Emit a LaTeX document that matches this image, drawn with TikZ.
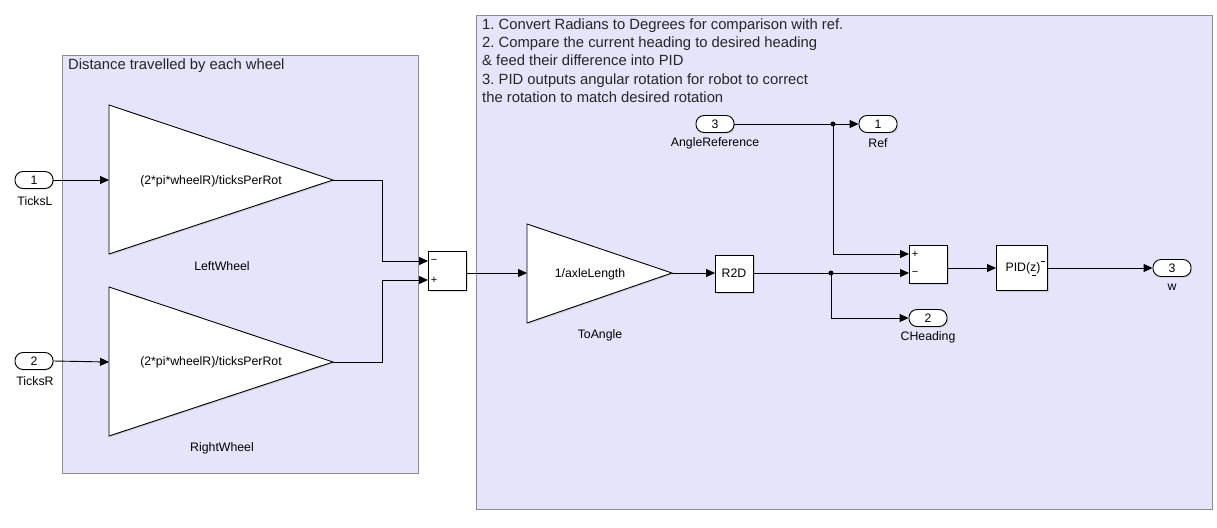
\documentclass[tikz,border=0pt]{standalone}
\usepackage{fontspec}
\setmainfont{Liberation Sans}
\usetikzlibrary{arrows.meta,shadows}
\definecolor{areafill}{RGB}{228,228,250}
\definecolor{areaedge}{RGB}{140,140,150}
\frenchspacing
\begin{document}
\begin{tikzpicture}[x=1pt,y=-1pt,
  areabox/.style={fill=areafill,draw=areaedge,line width=0.9pt,
     drop shadow={shadow xshift=1.2pt,shadow yshift=-1.2pt,opacity=0.35,fill=black!60}},
  blk/.style={draw=black,fill=white,line width=0.9pt,inner sep=0pt,
     drop shadow={shadow xshift=1.2pt,shadow yshift=-1.2pt,opacity=0.25}},
  pill/.style={draw=black,fill=white,line width=0.9pt,rounded corners=8pt,
     minimum width=38pt,minimum height=17pt,inner sep=0pt,font=\fontsize{12.3}{14}\selectfont,
     drop shadow={shadow xshift=1.2pt,shadow yshift=-1.2pt,opacity=0.25}},
  lbl/.style={font=\fontsize{12.3}{14}\selectfont,inner sep=0pt},
  note/.style={font=\fontsize{14.8}{18}\selectfont,inner sep=0pt,anchor=base west,text=black!85},
  sig/.style={line width=0.9pt,draw=black},
  arr/.style={sig,-{Triangle[length=9pt,width=8pt]}},
  dot/.style={circle,fill=black,inner sep=0pt,minimum size=5pt}
]
\useasboundingbox (0,0) rectangle (1217,527);

% areas
\path[areabox] (62,55) rectangle (418,473);
\path[areabox] (476,15) rectangle (1212,509);
\node[note] (noteA) at (68,70) {Distance travelled by each wheel};
\node[note] (n1) at (482,30) {1. Convert Radians to Degrees for comparison with ref.};
\node[note] (n2) at (482,48) {2. Compare the current heading to desired heading};
\node[note] (n3) at (482,66) {\& feed their difference into PID};
\node[note] (n4) at (482,84) {3. PID outputs angular rotation for robot to correct};
\node[note] (n5) at (482,102) {the rotation to match desired rotation};

% inports
\node[pill] (in1) at (34,180) {1};
\node[lbl] (in1l) at (35,201) {TicksL};
\node[pill] (in2) at (34,361) {2};
\node[lbl] (in2l) at (35,381) {TicksR};

% gains
\path[blk] (109,105) -- (333,180) -- (109,254) -- cycle;
\coordinate (lwin) at (109,180); \coordinate (lwout) at (333,180);
\node[lbl] (lwt) at (211,181) {(2*pi*wheelR)/ticksPerRot};
\node[lbl] (lwl) at (222,266) {LeftWheel};

\path[blk] (109,287) -- (333,362) -- (109,436) -- cycle;
\coordinate (rwin) at (109,362); \coordinate (rwout) at (333,362);
\node[lbl] (rwt) at (211,362) {(2*pi*wheelR)/ticksPerRot};
\node[lbl] (rwl) at (222,448) {RightWheel};

% sum 1
\node[blk,anchor=north west,minimum width=38pt,minimum height=39pt] (sum1) at (428,251) {};
\node[lbl,font=\fontsize{11}{12}\selectfont] (s1m) at (434,261) {−};
\node[lbl,font=\fontsize{11}{12}\selectfont] (s1p) at (434,280) {+};
\coordinate (s1in1) at (428,261); \coordinate (s1in2) at (428,280);
\coordinate (s1out) at (466,273);

% ToAngle
\path[blk] (527,224) -- (672,273) -- (527,323) -- cycle;
\coordinate (tain) at (527,273); \coordinate (taout) at (672,273);
\node[lbl] (tat) at (590,274) {1/axleLength};
\node[lbl] (tal) at (600,335) {ToAngle};

% R2D
\node[blk,anchor=north west,minimum width=38pt,minimum height=37pt] (r2d) at (715,255) {};
\node[lbl] (r2dt) at (734,273) {R2D};
\coordinate (r2din) at (715,273); \coordinate (r2dout) at (753,273);

% AngleReference inport, Ref outport
\node[pill] (in3) at (715,124) {3};
\node[lbl] (in3l) at (715,143) {AngleReference};
\node[pill] (ref) at (878,124) {1};
\node[lbl] (refl) at (878,143) {Ref};

% sum 2
\node[blk,anchor=north west,minimum width=38pt,minimum height=38pt] (sum2) at (909,245) {};
\node[lbl,font=\fontsize{11}{12}\selectfont] (s2p) at (915,254) {+};
\node[lbl,font=\fontsize{11}{12}\selectfont] (s2m) at (915,273) {−};
\coordinate (s2in1) at (909,254); \coordinate (s2in2) at (909,273);
\coordinate (s2out) at (947,268);

% PID
\node[blk,anchor=north west,minimum width=51pt,minimum height=45pt] (pid) at (996,245) {};
\node[lbl] (pidt) at (1023,268) {PID(z)};
\draw[line width=0.7pt] (1040.5,261.5) -- (1045,261.5);
\draw[line width=0.7pt] (1032,275.5) -- (1035.5,275.5);
\coordinate (pidin) at (996,268); \coordinate (pidout) at (1047,268);

% outports
\node[pill] (wout) at (1172,268) {3};
\node[lbl] (woutl) at (1172,287) {w};
\node[pill] (chd) at (928,318) {2};
\node[lbl] (chdl) at (928,337) {CHeading};

% branch points
\node[dot] (d1) at (833,124) {};
\node[dot] (d2) at (831,273) {};

% connectors
\draw[arr] (in1.east) -- (lwin);
\draw[arr] (in2.east) -- (rwin);
\draw[arr] (lwout) -- (382,180) -- (382,261) -- (s1in1);
\draw[arr] (rwout) -- (382,362) -- (382,280) -- (s1in2);
\draw[arr] (s1out) -- (tain);
\draw[arr] (taout) -- (r2din);
\draw[sig] (r2dout) -- (d2.center);
\draw[arr] (d2.center) -- (s2in2);
\draw[arr] (d2.center) |- (chd.west);
\draw[sig] (in3.east) -- (d1.center);
\draw[arr] (d1.center) -- (ref.west);
\draw[arr] (d1.center) |- (s2in1);
\draw[arr] (s2out) -- (pidin);
\draw[arr] (pidout) -- (wout.west);
\end{tikzpicture}
\end{document}
